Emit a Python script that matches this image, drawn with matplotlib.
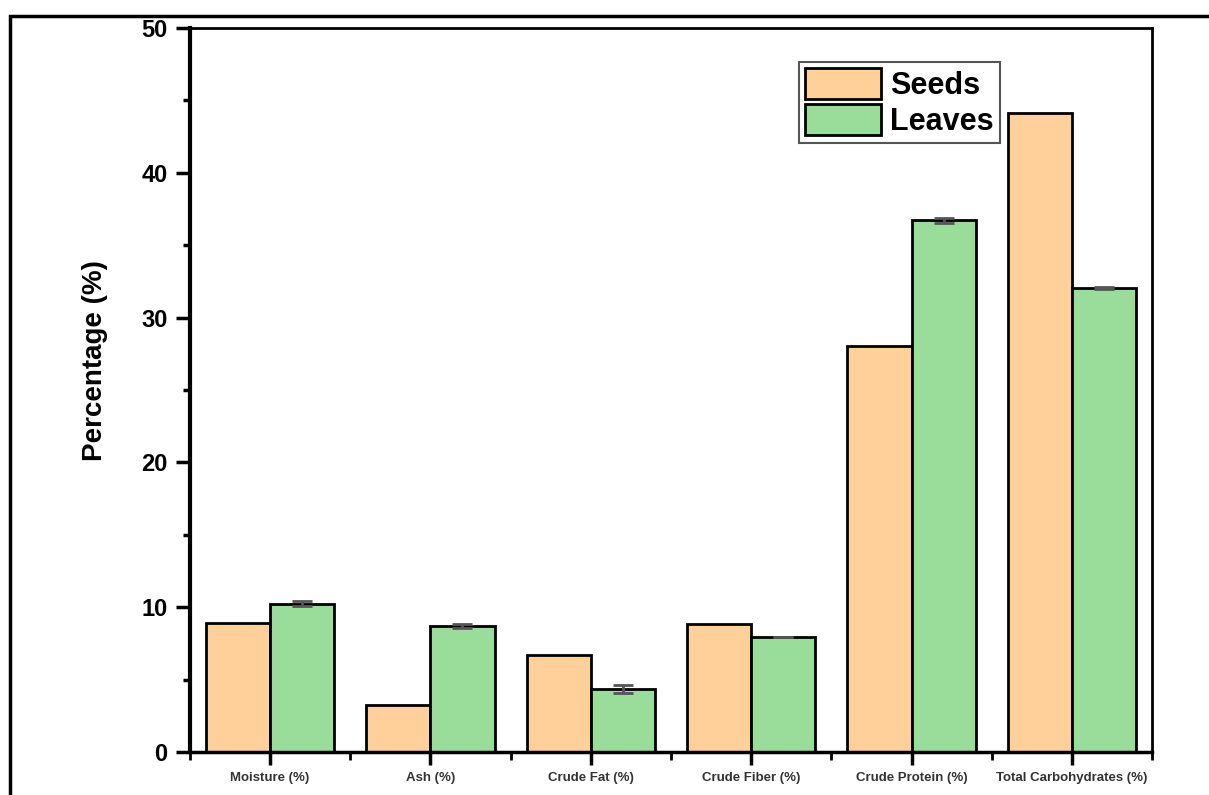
import matplotlib
matplotlib.use('Agg')
import matplotlib.pyplot as plt
from matplotlib.patches import Rectangle
from matplotlib.ticker import MultipleLocator
import numpy as np

plt.rcParams['font.family'] = ['Liberation Sans', 'DejaVu Sans']

# data
categories = ['Moisture (%)', 'Ash (%)', 'Crude Fat (%)', 'Crude Fiber (%)',
              'Crude Protein (%)', 'Total Carbohydrates (%)']
seeds = [8.9, 3.25, 6.7, 8.85, 28.0, 44.1]
leaves = [10.25, 8.7, 4.35, 7.95, 36.7, 32.05]
leaves_err = [0.15, 0.12, 0.3, 0.0, 0.2, 0.05]

fig = plt.figure(figsize=(12.09, 7.95), dpi=100)
ax = fig.add_axes([0.157, 0.054, 0.796, 0.911])

# outer frame of the original picture
fig.patches.append(Rectangle((0.0083, -0.05), 1.2, 1.0299, transform=fig.transFigure,
                             fill=False, lw=2.5, ec='black', clip_on=False))

x = np.arange(len(categories))
w = 0.4
ax.bar(x - w/2, seeds, w, color='#FFD09A', edgecolor='black', lw=2, label='Seeds', zorder=2)
ax.bar(x + w/2, leaves, w, color='#9ADC9A', edgecolor='black', lw=2, label='Leaves', zorder=2)
ax.errorbar(x + w/2, leaves, yerr=leaves_err, fmt='none', ecolor='#555555',
            elinewidth=2, capsize=7, capthick=2, zorder=3)

ax.set_xlim(-0.5, len(categories) - 0.5)
ax.set_ylim(0, 50)
ax.yaxis.set_major_locator(MultipleLocator(10))
ax.yaxis.set_minor_locator(MultipleLocator(5))
ax.xaxis.set_minor_locator(MultipleLocator(1, offset=0.5))
ax.set_xticks(x)
ax.set_xticklabels(categories, fontsize=9.5, fontweight='bold', color='#333333')
ax.tick_params(axis='y', which='major', length=10, width=2.5, labelsize=17, pad=6)
ax.tick_params(axis='y', which='minor', length=5, width=2.5)
ax.tick_params(axis='x', which='major', length=9, width=2.5, pad=5)
ax.tick_params(axis='x', which='minor', length=6, width=2)
for lab in ax.get_yticklabels():
    lab.set_fontweight('bold')

ax.set_ylabel('Percentage (%)', fontsize=20, fontweight='bold')
ax.yaxis.set_label_coords(-0.085, 0.54)

ax.spines['left'].set_linewidth(3)
ax.spines['bottom'].set_linewidth(2.5)
ax.spines['top'].set_linewidth(2)
ax.spines['right'].set_linewidth(2)

leg = ax.legend(loc='upper right', bbox_to_anchor=(0.842, 0.953),
                prop={'weight': 'bold', 'size': 22}, frameon=True, fancybox=False,
                edgecolor='#555555', framealpha=1, borderpad=0.2, borderaxespad=0,
                handlelength=2.5, handleheight=1.2, handletextpad=0.3, labelspacing=0.1)
leg.get_frame().set_linewidth(1.5)

fig.savefig('out.png', dpi=100)
